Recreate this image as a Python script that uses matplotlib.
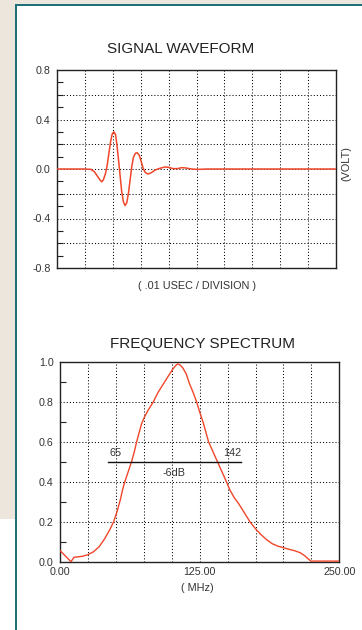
import numpy as np
import matplotlib
matplotlib.use("Agg")
import matplotlib.pyplot as plt
from matplotlib.patches import Rectangle

plt.rcParams['font.family'] = ['Liberation Sans', 'DejaVu Sans']

# ---- data ----
wave_t = [0.0, 0.98, 1.22, 1.34, 1.46, 1.545, 1.60, 1.66, 1.74, 1.80, 1.86, 1.92, 1.98,
          2.04, 2.10, 2.14, 2.20, 2.26, 2.32, 2.38, 2.44, 2.50, 2.56, 2.62, 2.68, 2.74,
          2.81, 2.87, 2.95, 3.02, 3.09, 3.16, 3.26, 3.38, 3.52, 3.68, 3.86, 4.00, 4.16,
          4.31, 4.48, 4.63, 4.81, 5.05, 5.4, 10.0]
wave_v = [0.0, 0.0, -0.003, -0.022, -0.062, -0.089, -0.103, -0.089, -0.035, 0.032, 0.127,
          0.22, 0.284, 0.30, 0.276, 0.208, 0.086, -0.049, -0.184, -0.265, -0.295, -0.273,
          -0.197, -0.089, 0.019, 0.095, 0.127, 0.132, 0.111, 0.059, 0.005, -0.027, -0.041,
          -0.030, -0.008, 0.005, 0.016, 0.014, 0.003, 0.003, 0.011, 0.008, 0.0, -0.003,
          0.0, 0.0]

freq_mhz = [0, 9.8, 12.5, 20, 25, 30, 35, 40, 45, 48, 51, 54, 56, 58, 61, 64, 66.5, 68.6,
            71, 73, 75.2, 79, 83.5, 88, 92.5, 97, 101, 104, 105.5, 107.5, 110, 113, 116,
            119, 122.3, 125, 128, 131, 133, 137, 141, 145, 149, 152, 156, 160, 165, 170,
            175, 180, 185, 190, 195, 200, 205, 210, 215, 219, 222, 225.2, 226, 250]
freq_amp = [0.056, 0.0, 0.022, 0.027, 0.035, 0.05, 0.075, 0.115, 0.165, 0.20, 0.25, 0.31,
            0.36, 0.40, 0.45, 0.50, 0.55, 0.60, 0.65, 0.69, 0.72, 0.76, 0.80, 0.85, 0.89,
            0.93, 0.965, 0.985, 0.99, 0.985, 0.97, 0.94, 0.89, 0.85, 0.80, 0.75, 0.70,
            0.64, 0.60, 0.55, 0.50, 0.45, 0.40, 0.36, 0.32, 0.29, 0.245, 0.20, 0.165,
            0.135, 0.11, 0.09, 0.078, 0.07, 0.062, 0.055, 0.045, 0.03, 0.015, 0.0, 0.003,
            0.003]

low_cut, high_cut = 65, 142
level_6db = 0.5
band_start, band_end = 42.7, 161.7

W, H = 362, 630
BEIGE = '#ece6dd'
TEAL = '#1d6f7a'
RED = '#f0462a'
TXT = '#333333'

fig = plt.figure(figsize=(W / 100, H / 100), dpi=100, facecolor='white')

def rect(x0, y0, x1, y1, color):
    # pixel coords from top-left
    fig.add_artist(Rectangle((x0 / W, 1 - y1 / H), (x1 - x0) / W, (y1 - y0) / H,
                             transform=fig.transFigure, facecolor=color,
                             edgecolor='none', zorder=-10))

rect(0, 0, W, 4, BEIGE)
rect(0, 0, 15, 519, BEIGE)
rect(15, 4, W, 6, TEAL)
rect(15, 4, 17, H, TEAL)

def add_ax(x0, y0, x1, y1):
    return fig.add_axes([x0 / W, 1 - y1 / H, (x1 - x0) / W, (y1 - y0) / H])

def style(ax):
    for s in ax.spines.values():
        s.set_color('#222222')
        s.set_linewidth(1.0)
    ax.tick_params(axis='both', which='major', length=0, labelsize=7.7, colors=TXT)
    ax.tick_params(axis='y', which='minor', direction='in', length=4.3, width=0.8,
                   color='#222222', left=True)
    ax.tick_params(axis='y', which='major', pad=4.5)
    ax.tick_params(axis='x', which='both', bottom=False)

GRID = dict(color='#000000', linewidth=0.75, linestyle=(0, (1, 2)), zorder=1)

# ---- top: signal waveform ----
ax1 = add_ax(57, 70, 336, 268)
ax1.set_xlim(0, 10)
ax1.set_ylim(-0.8, 0.8)
for v in np.arange(1, 10):
    ax1.axvline(v, **GRID)
for v in np.arange(-0.6, 0.61, 0.2):
    ax1.axhline(v, **GRID)
ax1.plot(wave_t, wave_v, color=RED, linewidth=1.1, zorder=3)
ax1.set_yticks([-0.8, -0.4, 0.0, 0.4, 0.8])
ax1.set_yticklabels(['-0.8', '-0.4', '0.0', '0.4', '0.8'])
ax1.set_yticks(np.arange(-0.7, 0.71, 0.1), minor=True)
ax1.set_xticks([])
style(ax1)

fig.text(181 / W, 1 - 49 / H, 'SIGNAL WAVEFORM', ha='center', va='center',
         fontsize=11, color='#222222')
fig.text(197.5 / W, 1 - 286.5 / H, '( .01 USEC / DIVISION )', ha='center', va='center',
         fontsize=7.8, color=TXT)
fig.text(346 / W, 1 - 164 / H, '(VOLT)', ha='center', va='center', rotation=90,
         fontsize=7.8, color=TXT)

# ---- bottom: frequency spectrum ----
ax2 = add_ax(60, 362, 339.3, 561.7)
ax2.set_xlim(0, 250)
ax2.set_ylim(0, 1.0)
for v in np.arange(25, 250, 25):
    ax2.axvline(v, **GRID)
for v in np.arange(0.2, 0.81, 0.2):
    ax2.axhline(v, **GRID)
ax2.plot(freq_mhz, freq_amp, color=RED, linewidth=1.0, zorder=3)
ax2.plot([band_start, band_end], [level_6db, level_6db], color='#111111',
         linewidth=1.0, zorder=4)
ann = dict(ha='center', va='center', fontsize=7.8, color=TXT, zorder=5)
ax2.text(49.7, 0.546, str(low_cut), **ann)
ax2.text(153.8, 0.546, str(high_cut), **ann)
ax2.text(101.8, 0.445, '-6dB', **ann)
ax2.set_yticks(np.arange(0, 1.01, 0.2))
ax2.set_yticklabels(['0.0', '0.2', '0.4', '0.6', '0.8', '1.0'])
ax2.set_yticks(np.arange(0.1, 1.0, 0.2), minor=True)
ax2.set_xticks([0, 125, 250])
ax2.set_xticklabels(['0.00', '125.00', '250.00'])
style(ax2)
ax2.tick_params(axis='x', which='major', pad=3.5)

fig.text(202.5 / W, 1 - 343.7 / H, 'FREQUENCY SPECTRUM', ha='center', va='center',
         fontsize=11, color='#222222')
fig.text(197.5 / W, 1 - 588 / H, '( MHz)', ha='center', va='center',
         fontsize=7.8, color=TXT)

fig.savefig('out.png', dpi=100, facecolor='white')
